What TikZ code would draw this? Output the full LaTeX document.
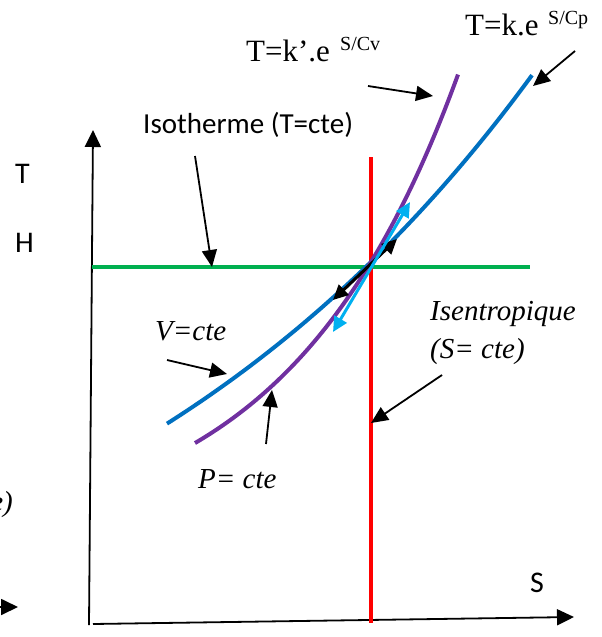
\documentclass[tikz,border=0pt]{standalone}
\usepackage{fontspec}
\setmainfont{Liberation Serif}
\newfontfamily\sansf{Carlito}
\usetikzlibrary{arrows.meta}
\definecolor{cblue}{RGB}{0,112,192}
\definecolor{cpurple}{RGB}{112,48,160}
\definecolor{cgreen}{RGB}{0,176,80}
\definecolor{cred}{RGB}{255,0,0}
\definecolor{ccyan}{RGB}{0,176,240}
\tikzset{
  lbl/.style={inner sep=0pt, anchor=base west},
  serif/.style={font=\fontsize{31}{36}\selectfont},
  itlbl/.style={font=\fontsize{29}{34}\selectfont\itshape},
  sanslbl/.style={font=\sansf\fontsize{29}{34}\selectfont},
  suplbl/.style={font=\fontsize{20}{24}\selectfont},
  pointer/.style={draw, line width=1.8pt, -{Triangle[length=17pt,width=15pt]}},
  axisline/.style={draw, line width=1.8pt, -{Triangle[length=17pt,width=16pt]}},
  bigline/.style={line width=4pt},
  tangent/.style={line width=3pt, {Triangle[length=15pt,width=14pt]}-{Triangle[length=15pt,width=14pt]}}
}
\begin{document}
\begin{tikzpicture}[x=1pt,y=-1pt]
\useasboundingbox (0,0) rectangle (602,637);
\clip (0,0) rectangle (602,637);

% axes
\coordinate (vbot) at (89,625);
\coordinate (vtop) at (93,130);
\coordinate (hbeg) at (93,624);
\coordinate (hend) at (574,617);
\draw[axisline] (vbot) -- (vtop);
\draw[axisline] (hbeg) -- (hend);

% cropped arrow at the left edge
\coordinate (cropa) at (-5,607);
\coordinate (cropb) at (18,607);
\draw[axisline] (cropa) -- (cropb);
\node[itlbl, inner sep=0pt, anchor=base east] (cropt) at (13,511) {cte)};

% isotherm and isentrope
\coordinate (gL) at (92,267);
\coordinate (gR) at (530,267);
\draw[bigline, cgreen] (gL) -- (gR);
\coordinate (rT) at (371,157);
\coordinate (rB) at (371,623);
\draw[bigline, cred] (rT) -- (rB);

% curves
\coordinate (X) at (371,262);
\draw[bigline, cblue] plot[domain=-204:161, samples=80, smooth] ({371+\x},{262-463*(exp(0.0021*\x)-1)});
\draw[bigline, cpurple] plot[domain=-176:87, samples=80, smooth] ({371+\x},{262-281*(exp(0.00587*\x)-1)});

% tangent arrows
\coordinate (bk1) at (333,300);
\coordinate (bk2) at (397,239);
\draw[tangent, black] (bk1) -- (bk2);
\coordinate (cy1) at (333,332);
\coordinate (cy2) at (410,202);
\draw[tangent, ccyan] (cy1) -- (cy2);

% labels
\node[lbl, serif] (Tv) at (246,61) {T=k’.e};
\node[lbl, suplbl] (Tvs) at (340,50) {S/Cv};
\node[lbl, serif] (Tp) at (465,35) {T=k.e};
\node[lbl, suplbl] (Tps) at (548,24) {S/Cp};
\node[lbl, sanslbl] (iso) at (143,133) {Isotherme (T=cte)};
\node[lbl, sanslbl, font=\sansf\fontsize{30}{34}\selectfont] (Tax) at (15,183) {T};
\node[lbl, sanslbl, font=\sansf\fontsize{30}{34}\selectfont] (Hax) at (15,252) {H};
\node[lbl, sanslbl, font=\sansf\fontsize{30}{34}\selectfont] (Sax) at (530,592) {S};
\node[lbl, itlbl] (V) at (155,340) {V=cte};
\node[lbl, itlbl] (P) at (198,488) {P= cte};
\node[lbl, itlbl] (ise) at (430,320) {Isentropique};
\node[lbl, itlbl] (ise2) at (430,358) {(S= cte)};

% pointers
\coordinate (a1s) at (368,86);
\coordinate (a1e) at (433,96);
\draw[pointer] (a1s) -- (a1e);
\coordinate (a2s) at (575,51);
\coordinate (a2e) at (533,86);
\draw[pointer] (a2s) -- (a2e);
\coordinate (a3s) at (195,156);
\coordinate (a3e) at (212,267);
\draw[pointer] (a3s) -- (a3e);
\coordinate (a4s) at (167,360);
\coordinate (a4e) at (227,374);
\draw[pointer] (a4s) -- (a4e);
\coordinate (a5s) at (266,444);
\coordinate (a5e) at (272,390);
\draw[pointer] (a5s) -- (a5e);
\coordinate (a6s) at (442,375);
\coordinate (a6e) at (371,423);
\draw[pointer] (a6s) -- (a6e);
\end{tikzpicture}
\end{document}
